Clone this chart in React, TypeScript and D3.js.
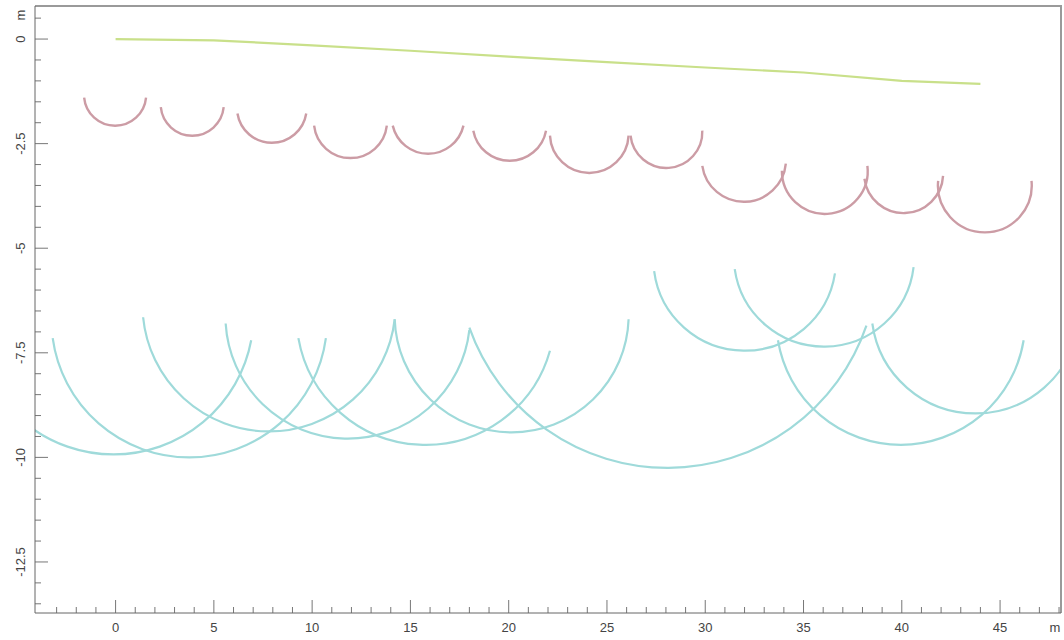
import React, { useEffect, useRef } from "react";
import * as d3 from "d3";

// green line (surface)
const greenX = [0, 5, 10, 15, 20, 25, 30, 35, 40, 44];
const greenY = [0, -0.03, -0.15, -0.28, -0.42, -0.55, -0.68, -0.8, -1.0, -1.07];

// each arc: [left end, lowest point, right end] as [x, depth]
const redArcs = [
  [[-1.6, -1.4], [0.1, -2.07], [1.55, -1.4]],
  [[2.3, -1.63], [3.85, -2.31], [5.5, -1.63]],
  [[6.2, -1.78], [7.9, -2.48], [9.7, -1.78]],
  [[10.1, -2.07], [11.75, -2.84], [13.8, -2.07]],
  [[14.1, -2.07], [15.8, -2.74], [17.7, -2.07]],
  [[18.2, -2.19], [20.0, -2.91], [21.9, -2.19]],
  [[22.1, -2.31], [24.0, -3.2], [26.1, -2.31]],
  [[26.2, -2.31], [27.95, -3.08], [29.85, -2.19]],
  [[29.85, -3.03], [32.0, -3.89], [34.1, -2.98]],
  [[33.9, -3.15], [36.05, -4.18], [38.25, -3.03]],
  [[38.1, -3.34], [40.05, -4.16], [42.1, -3.27]],
  [[41.85, -3.39], [44.1, -4.62], [46.6, -3.39]],
];

const cyanArcs = [
  [[-7.1, -7.2], [-0.1, -9.93], [6.9, -7.2]],
  [[-3.2, -7.15], [3.7, -10.0], [10.7, -7.15]],
  [[1.4, -6.65], [8.7, -9.35], [14.2, -6.7]],
  [[5.6, -6.8], [12.0, -9.55], [18.0, -6.95]],
  [[9.3, -7.15], [15.6, -9.7], [22.1, -7.45]],
  [[14.2, -6.7], [19.9, -9.4], [26.1, -6.7]],
  [[18.0, -6.9], [28.0, -10.25], [38.2, -6.85]],
  [[27.4, -5.55], [32.1, -7.45], [36.6, -5.6]],
  [[31.5, -5.5], [36.2, -7.35], [40.6, -5.45]],
  [[33.7, -7.2], [39.9, -9.7], [46.2, -7.2]],
  [[38.5, -6.8], [43.8, -8.95], [49.0, -6.8]],
];

const xTicks = [0, 5, 10, 15, 20, 25, 30, 35, 40, 45];
const yTicks = [0, -2.5, -5, -7.5, -10, -12.5];
const xMinor = d3.range(-3, 49, 1);
const yMinor = d3.range(0.5, -13.6, -0.5);

const W = 1064;
const H = 640;
const left = 35, right = 1061, top = 6, bottom = 613;
const font = "Arial, 'Liberation Sans', sans-serif";

// arc through three screen points
function arcPath(p0, p1, p2) {
  const [ax, ay] = p0, [bx, by] = p1, [cx, cy] = p2;
  const d = 2 * (ax * (by - cy) + bx * (cy - ay) + cx * (ay - by));
  const ux = ((ax * ax + ay * ay) * (by - cy) + (bx * bx + by * by) * (cy - ay) + (cx * cx + cy * cy) * (ay - by)) / d;
  const uy = ((ax * ax + ay * ay) * (cx - bx) + (bx * bx + by * by) * (ax - cx) + (cx * cx + cy * cy) * (bx - ax)) / d;
  const r = Math.hypot(ax - ux, ay - uy);
  // centre on the same side of the chord as the bottom point -> large arc
  const side = (q) => (cx - ax) * (q[1] - ay) - (cy - ay) * (q[0] - ax);
  const large = side([ux, uy]) * side(p1) > 0 ? 1 : 0;
  return `M${ax},${ay}A${r},${r} 0 ${large} 0 ${cx},${cy}`;
}

const App = () => {
  const ref = useRef();

  useEffect(() => {
    const svg = d3.select(ref.current);
    svg.selectAll("*").remove();

    const x = d3.scaleLinear().domain([-4.1, 48.1]).range([left, right]);
    const y = d3.scaleLinear().domain([0.79, -13.72]).range([top, bottom]);

    svg.append("rect").attr("width", W).attr("height", H).attr("fill", "#fff");

    svg
      .append("clipPath")
      .attr("id", "plot")
      .append("rect")
      .attr("x", left)
      .attr("y", top)
      .attr("width", right - left)
      .attr("height", bottom - top);

    const plot = svg.append("g").attr("clip-path", "url(#plot)");

    const line = d3
      .line()
      .x((d) => x(d[0]))
      .y((d) => y(d[1]));

    plot
      .append("path")
      .datum(greenX.map((v, i) => [v, greenY[i]]))
      .attr("d", line)
      .attr("fill", "none")
      .attr("stroke", "#c9e08a")
      .attr("stroke-width", 2.2);

    const toPx = (p) => [x(p[0]), y(p[1])];

    plot
      .selectAll(".red")
      .data(redArcs)
      .enter()
      .append("path")
      .attr("d", (a) => arcPath(toPx(a[0]), toPx(a[1]), toPx(a[2])))
      .attr("fill", "none")
      .attr("stroke", "#cc9ca5")
      .attr("stroke-width", 2.4);

    plot
      .selectAll(".cyan")
      .data(cyanArcs)
      .enter()
      .append("path")
      .attr("d", (a) => arcPath(toPx(a[0]), toPx(a[1]), toPx(a[2])))
      .attr("fill", "none")
      .attr("stroke", "#9fdada")
      .attr("stroke-width", 2.2);

    // frame
    svg
      .append("path")
      .attr("d", `M${left},${top}H${right}V${bottom}`)
      .attr("fill", "none")
      .attr("stroke", "#9a9a9a")
      .attr("stroke-width", 2);

    const axes = svg.append("g").attr("stroke", "#777").attr("stroke-width", 1);

    // x ticks, pointing up into the plot
    axes
      .selectAll(".xt")
      .data(xMinor)
      .enter()
      .append("line")
      .attr("x1", (d) => x(d))
      .attr("x2", (d) => x(d))
      .attr("y1", bottom)
      .attr("y2", (d) => bottom - (xTicks.includes(d) ? 13 : 6));

    // y ticks, pointing right into the plot
    axes
      .selectAll(".yt")
      .data(yMinor)
      .enter()
      .append("line")
      .attr("y1", (d) => y(d))
      .attr("y2", (d) => y(d))
      .attr("x1", left)
      .attr("x2", (d) => left + (yTicks.includes(d) ? 13 : 6));

    axes
      .append("path")
      .attr("d", `M${left},${top}V${bottom}H${right}`)
      .attr("fill", "none")
      .attr("stroke", "#666");

    const labels = svg
      .append("g")
      .attr("font-family", font)
      .attr("font-size", 13)
      .attr("fill", "#444");

    labels
      .selectAll(".xl")
      .data(xTicks)
      .enter()
      .append("text")
      .attr("x", (d) => x(d))
      .attr("y", bottom + 19)
      .attr("text-anchor", "middle")
      .text((d) => d);
    labels
      .append("text")
      .attr("x", 1055)
      .attr("y", bottom + 19)
      .attr("text-anchor", "middle")
      .text("m");

    labels
      .selectAll(".yl")
      .data(yTicks)
      .enter()
      .append("text")
      .attr("transform", (d) => `translate(${left - 15},${y(d)}) rotate(-90)`)
      .attr("text-anchor", "middle")
      .attr("dy", "0.35em")
      .text((d) => d);
    labels
      .append("text")
      .attr("transform", `translate(${left - 15},15) rotate(-90)`)
      .attr("text-anchor", "middle")
      .attr("dy", "0.35em")
      .text("m");
  }, []);

  return (
    <svg
      ref={ref}
      width={W}
      height={H}
      style={{ position: "absolute", left: 0, top: 0 }}
    ></svg>
  );
};

export default App;
